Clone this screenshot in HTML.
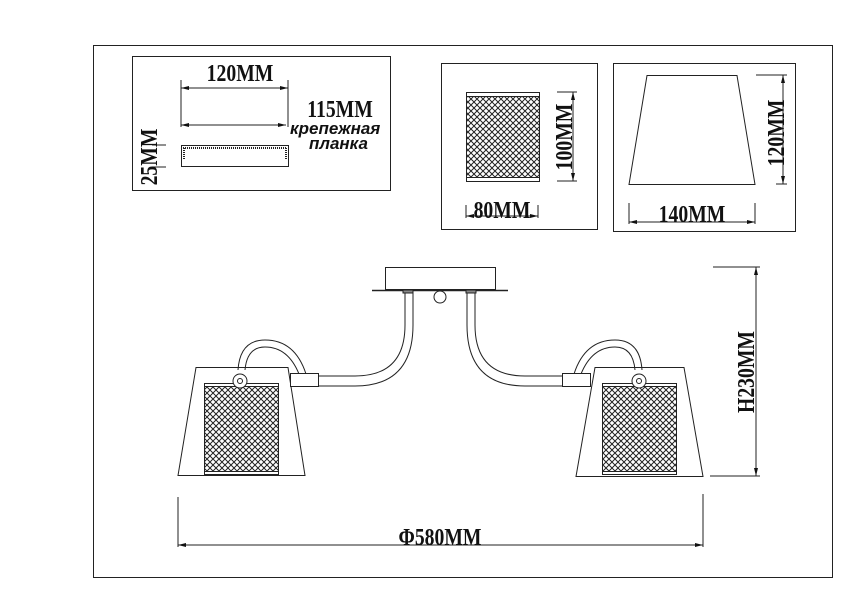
<!DOCTYPE html>
<html><head><meta charset="utf-8"><style>
html,body{margin:0;padding:0;background:#fff;}
svg{display:block;}
.t{font-family:"Liberation Serif",serif;font-size:24px;font-weight:bold;fill:#111;}
.r{font-family:"Liberation Sans","DejaVu Sans",sans-serif;font-weight:bold;font-style:italic;font-size:17px;fill:#111;}
</style></head><body>
<svg width="842" height="595" viewBox="0 0 842 595" xmlns="http://www.w3.org/2000/svg">
<defs>
<pattern id="mesh" width="6" height="6" patternUnits="userSpaceOnUse">
<rect width="6" height="6" fill="#fff"/>
<path d="M0 0L6 6M6 0L0 6" stroke="#222" stroke-width="1"/>
</pattern>
<marker id="a" markerWidth="8" markerHeight="6" refX="8" refY="3" orient="auto-start-reverse" markerUnits="userSpaceOnUse"><path d="M0 1L8 3L0 5z" fill="#111"/></marker>
</defs>
<g fill="none" stroke="#222" stroke-width="1">
<rect x="93.5" y="45.5" width="739" height="532"/>
<rect x="132.5" y="56.5" width="258" height="134"/>
<rect x="441.5" y="63.5" width="156" height="166"/>
<rect x="613.5" y="63.5" width="182" height="168"/>
<line x1="181" y1="80" x2="181" y2="127"/><line x1="288" y1="80" x2="288" y2="127"/>
<line x1="181" y1="88" x2="288" y2="88" marker-start="url(#a)" marker-end="url(#a)"/>
<line x1="181" y1="125" x2="286" y2="125" marker-start="url(#a)" marker-end="url(#a)"/>
<rect x="181.5" y="145.5" width="107" height="21"/>
<line x1="183" y1="148" x2="287" y2="148" stroke-dasharray="1 1" stroke-width="2"/>
<line x1="184" y1="148" x2="184" y2="160" stroke-dasharray="1 1" stroke-width="2"/>
<line x1="286" y1="148" x2="286" y2="160" stroke-dasharray="1 1" stroke-width="2"/>
<line x1="152" y1="145" x2="166" y2="145"/><line x1="152" y1="167" x2="166" y2="167"/>
<rect x="466.5" y="92.5" width="73" height="89" fill="url(#mesh)"/>
<rect x="466.5" y="92.5" width="73" height="4" fill="#fff"/>
<rect x="466.5" y="177.5" width="73" height="4" fill="#fff"/>
<line x1="573" y1="92" x2="573" y2="181" marker-start="url(#a)" marker-end="url(#a)"/>
<line x1="557" y1="92" x2="577" y2="92"/><line x1="557" y1="181" x2="577" y2="181"/>
<line x1="466" y1="205" x2="466" y2="218"/><line x1="538" y1="205" x2="538" y2="218"/>
<line x1="466" y1="216" x2="538" y2="216" marker-start="url(#a)" marker-end="url(#a)"/>
<path d="M647 75.5H737L755 184.5H629Z"/>
<line x1="783" y1="75" x2="783" y2="184" marker-start="url(#a)" marker-end="url(#a)"/>
<line x1="756" y1="75" x2="787" y2="75"/><line x1="776" y1="184" x2="787" y2="184"/>
<line x1="629" y1="203" x2="629" y2="224"/><line x1="755" y1="203" x2="755" y2="224"/>
<line x1="629" y1="222" x2="755" y2="222" marker-start="url(#a)" marker-end="url(#a)"/>
<rect x="385.5" y="267.5" width="110" height="22"/>
<line x1="372" y1="290.5" x2="508" y2="290.5" stroke-width="1.5"/>
<circle cx="440" cy="297" r="6" fill="#fff"/>
<rect x="403" y="290" width="10" height="3" fill="#888"/>
<rect x="466" y="290" width="10" height="3" fill="#888"/>
<path d="M405 293V325Q405 376 355 376H318"/>
<path d="M413 293V325Q413 386 355 386H318"/>
<path d="M475 293V325Q475 376 525 376H562"/>
<path d="M467 293V325Q467 386 525 386H562"/>
<path d="M196 367.5H288L305 475.5H178Z"/>
<path d="M238 370Q240 340 265 340Q295 340 306 374"/>
<path d="M245 370Q247 347 265 347Q288 347 299 374"/>
<rect x="290.5" y="373.5" width="28" height="13" fill="#fff"/>
<rect x="204.5" y="383.5" width="74" height="91" fill="url(#mesh)"/>
<rect x="204.5" y="383.5" width="74" height="3" fill="#fff"/>
<rect x="204.5" y="471.5" width="74" height="3" fill="#fff"/>
<circle cx="240" cy="381" r="7" fill="#fff"/><circle cx="240" cy="381" r="2.5"/>
<path d="M595 367.5H684L703 476.5H576Z"/>
<path d="M642 370Q640 340 615 340Q585 340 574 374"/>
<path d="M635 370Q633 347 615 347Q592 347 581 374"/>
<rect x="562.5" y="373.5" width="28" height="13" fill="#fff"/>
<rect x="602.5" y="383.5" width="74" height="91" fill="url(#mesh)"/>
<rect x="602.5" y="383.5" width="74" height="3" fill="#fff"/>
<rect x="602.5" y="471.5" width="74" height="3" fill="#fff"/>
<circle cx="639" cy="381" r="7" fill="#fff"/><circle cx="639" cy="381" r="2.5"/>
<line x1="713" y1="267" x2="760" y2="267"/><line x1="710" y1="476" x2="760" y2="476"/>
<line x1="756" y1="267" x2="756" y2="476" marker-start="url(#a)" marker-end="url(#a)"/>
<line x1="178" y1="497" x2="178" y2="547"/><line x1="703" y1="494" x2="703" y2="547"/>
<line x1="178" y1="545" x2="703" y2="545" marker-start="url(#a)" marker-end="url(#a)"/>
</g>
<g class="t" text-anchor="middle">
<text transform="translate(240 81) scale(0.82 1)">120MM</text>
<text transform="translate(340 117) scale(0.82 1)">115MM</text>
<text transform="translate(157 157) rotate(-90) scale(0.82 1)">25MM</text>
<text transform="translate(502 218) scale(0.82 1)">80MM</text>
<text transform="translate(572 137) rotate(-90) scale(0.82 1)">100MM</text>
<text transform="translate(692 222) scale(0.82 1)">140MM</text>
<text transform="translate(784 133) rotate(-90) scale(0.82 1)">120MM</text>
<text transform="translate(754 372) rotate(-90) scale(0.82 1)">H230MM</text>
<text transform="translate(440 545) scale(0.82 1)">Φ580MM</text>
</g>
<text class="r" x="290" y="134">крепежная</text>
<text class="r" x="309" y="149">планка</text>
</svg>
</body></html>
